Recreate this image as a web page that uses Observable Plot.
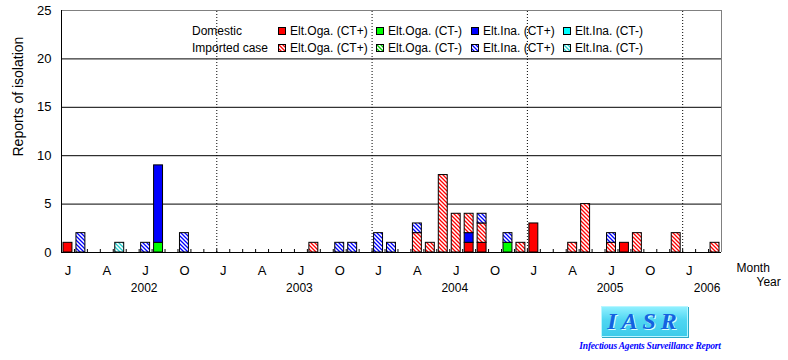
<!DOCTYPE html>
<html>
<head>
<meta charset="utf-8">
<script src="https://cdn.jsdelivr.net/npm/d3@7"></script>
<script src="https://cdn.jsdelivr.net/npm/@observablehq/plot@0.6"></script>
<style>
  body { margin: 0; background: #fff; font-family: "Liberation Sans", Arial, sans-serif; }
  #wrap { position: relative; width: 788px; height: 360px; overflow: hidden; }
  .lg { position: absolute; font-size: 12px; color: #000; white-space: nowrap; line-height: 14px; }
  .sw { position: absolute; width: 8px; height: 8px; }
  #logo { position: absolute; left: 601px; top: 306px; width: 85px; height: 29px;
    background: linear-gradient(180deg, #8ff0ff 0%, #4fd6f2 45%, #3ccbea 100%);
    border: 1px solid #b8f6ff; box-shadow: 1px 1px 0 #2aa9c8;
    font-family: "Liberation Serif", "DejaVu Serif", serif; font-style: italic; font-weight: bold;
    font-size: 24px; color: #1462e0; letter-spacing: 5px; text-align: center; line-height: 29px;
    text-shadow: 1px 1px 0 #d8ffff; }
  #cap { position: absolute; left: 573px; top: 341px; width: 154px; text-align: center;
    font-family: "Liberation Serif", "DejaVu Serif", serif; font-style: italic; font-weight: bold;
    font-size: 9.5px; color: #0000ff; white-space: nowrap; letter-spacing: -0.2px; }
</style>
</head>
<body>
<div id="wrap"></div>
<script>
// ---- data (monthly reports, Jan 2002 .. Mar 2006) ----
const startYear = 2002;
const monthCount = 51;
const monthLetters = ["J", "", "", "A", "", "", "J", "", "", "O", "", ""];
const years = [2002, 2003, 2004, 2005, 2006];
const yTicks = [0, 5, 10, 15, 20, 25];

const seriesNames = [
  "Domestic Elt.Oga. (CT+)", "Domestic Elt.Oga. (CT-)", "Domestic Elt.Ina. (CT+)", "Domestic Elt.Ina. (CT-)",
  "Imported Elt.Oga. (CT+)", "Imported Elt.Oga. (CT-)", "Imported Elt.Ina. (CT+)", "Imported Elt.Ina. (CT-)"
];
const legendLabels = ["Elt.Oga. (CT+)", "Elt.Oga. (CT-)", "Elt.Ina. (CT+)", "Elt.Ina. (CT-)"];
const groupLabels = ["Domestic", "Imported case"];

//                      2002                        2003                        2004                        2005                        2006
const domOgaPos = [1,0,0,0,0,0,0,0,0,0,0,0, 0,0,0,0,0,0,0,0,0,0,0,0, 0,0,0,0,0,0,0,1,1,0,0,0, 3,0,0,0,0,0,0,1,0,0,0,0, 0,0,0];
const domOgaNeg = [0,0,0,0,0,0,0,1,0,0,0,0, 0,0,0,0,0,0,0,0,0,0,0,0, 0,0,0,0,0,0,0,0,0,0,1,0, 0,0,0,0,0,0,0,0,0,0,0,0, 0,0,0];
const domInaPos = [0,0,0,0,0,0,0,8,0,0,0,0, 0,0,0,0,0,0,0,0,0,0,0,0, 0,0,0,0,0,0,0,1,0,0,0,0, 0,0,0,0,0,0,0,0,0,0,0,0, 0,0,0];
const domInaNeg = [0,0,0,0,0,0,0,0,0,0,0,0, 0,0,0,0,0,0,0,0,0,0,0,0, 0,0,0,0,0,0,0,0,0,0,0,0, 0,0,0,0,0,0,0,0,0,0,0,0, 0,0,0];
const impOgaPos = [0,0,0,0,0,0,0,0,0,0,0,0, 0,0,0,0,0,0,0,1,0,0,0,0, 0,0,0,2,1,8,4,2,2,0,0,1, 0,0,0,1,5,0,1,0,2,0,0,2, 0,0,1];
const impOgaNeg = [0,0,0,0,0,0,0,0,0,0,0,0, 0,0,0,0,0,0,0,0,0,0,0,0, 0,0,0,0,0,0,0,0,0,0,0,0, 0,0,0,0,0,0,0,0,0,0,0,0, 0,0,0];
const impInaPos = [0,2,0,0,0,0,1,0,0,2,0,0, 0,0,0,0,0,0,0,0,0,1,1,0, 2,1,0,1,0,0,0,0,1,0,1,0, 0,0,0,0,0,0,1,0,0,0,0,0, 0,0,0];
const impInaNeg = [0,0,0,0,1,0,0,0,0,0,0,0, 0,0,0,0,0,0,0,0,0,0,0,0, 0,0,0,0,0,0,0,0,0,0,0,0, 0,0,0,0,0,0,0,0,0,0,0,0, 0,0,0];

const seriesValues = [domOgaPos, domOgaNeg, domInaPos, domInaNeg, impOgaPos, impOgaNeg, impInaPos, impInaNeg];

// ---- styles ----
const baseColors = ["#ff0000", "#00ff00", "#0000ff", "#00ffff"];
const hatchColors = ["#ff0000", "#00cc00", "#0000ff", "#22cccc"];
const fills = [...baseColors, ...hatchColors.map((c, i) => `url(#hatch${i})`)];

// pattern defs (shared by chart and legend)
const NS = "http://www.w3.org/2000/svg";
const defsSvg = document.createElementNS(NS, "svg");
defsSvg.setAttribute("width", 0); defsSvg.setAttribute("height", 0);
defsSvg.style.position = "absolute";
const defs = document.createElementNS(NS, "defs");
hatchColors.forEach((c, i) => {
  const p = document.createElementNS(NS, "pattern");
  p.setAttribute("id", `hatch${i}`);
  p.setAttribute("patternUnits", "userSpaceOnUse");
  p.setAttribute("width", 4); p.setAttribute("height", 4);
  const r = document.createElementNS(NS, "rect");
  r.setAttribute("width", 4); r.setAttribute("height", 4); r.setAttribute("fill", "#fff");
  p.appendChild(r);
  const path = document.createElementNS(NS, "path");
  path.setAttribute("d", "M-1,-1L5,5M-1,3L1,5M3,-1L5,1");
  path.setAttribute("stroke", c); path.setAttribute("stroke-width", 1.3);
  p.appendChild(path);
  defs.appendChild(p);
});
defsSvg.appendChild(defs);
document.getElementById("wrap").appendChild(defsSvg);

// ---- table ----
const table = [];
seriesNames.forEach((s, k) => {
  seriesValues[k].forEach((v, i) => { if (v > 0) table.push({series: s, i, value: v}); });
});

const monthTicks = d3.range(monthCount).filter(i => monthLetters[i % 12] !== "");
const yearCenters = years.map(y => {
  const ms = d3.range(monthCount).filter(i => startYear + Math.floor(i / 12) === y);
  return {year: y, x: d3.mean(ms) + 0.5};
});

const font = "Liberation Sans, Arial, sans-serif";

const chart = Plot.plot({
  width: 788,
  height: 300,
  marginLeft: 61,
  marginRight: 67,
  marginTop: 10,
  marginBottom: 48,
  style: {fontFamily: font, fontSize: "12px", background: "white", color: "black"},
  x: {domain: [0, monthCount], axis: null},
  y: {domain: [0, 25], axis: null},
  color: {domain: seriesNames, range: fills},
  marks: [
    Plot.ruleY([5, 10, 15, 20], {stroke: "black"}),
    Plot.ruleY([25], {stroke: "#808080"}),
    Plot.ruleX([monthCount], {y1: 0, y2: 25, stroke: "#808080"}),
    Plot.ruleX([12, 24, 36, 48], {y1: 0, y2: 25, stroke: "black", strokeDasharray: "1,2"}),
    Plot.ruleX(d3.range(1, monthCount), {y1: 0, y2: 0, insetTop: -3, stroke: "black"}),
    Plot.rectY(table, {
      x1: "i", x2: d => d.i + 1, y: "value", z: "series", fill: "series",
      insetLeft: 2, insetRight: 2, stroke: "black", strokeWidth: 1,
      order: seriesNames
    }),
    Plot.ruleX([0], {y1: 0, y2: 25, stroke: "black"}),
    Plot.ruleY([0], {stroke: "black"}),
    Plot.text(yTicks, {x: 0, y: d => d, text: d => String(d), textAnchor: "end", dx: -10, fontSize: 13}),
    Plot.text(monthTicks, {x: d => d + 0.5, y: 0, text: d => monthLetters[d % 12], dy: 18, fontSize: 13}),
    Plot.text(yearCenters, {x: "x", y: 0, text: d => String(d.year), dy: 36, dx: 5, fontSize: 12}),
    Plot.text(["Reports of isolation"], {frameAnchor: "left", rotate: -90, dx: -42.5, dy: 25, fontSize: 14}),
    Plot.text(["Month"], {frameAnchor: "bottom-right", textAnchor: "start", dx: 15, dy: 19.5, fontSize: 12}),
    Plot.text(["Year"], {frameAnchor: "bottom-right", textAnchor: "start", dx: 35, dy: 33, fontSize: 12})
  ]
});
const wrap = document.getElementById("wrap");
wrap.appendChild(chart);

// ---- legend overlay ----
const colX = [278, 376, 471, 563];
const rowY = [31, 48];
groupLabels.forEach((g, r) => {
  const t = document.createElement("div");
  t.className = "lg"; t.textContent = g;
  t.style.left = "192px"; t.style.top = (rowY[r] - 7) + "px";
  wrap.appendChild(t);
  legendLabels.forEach((lab, c) => {
    const k = r * 4 + c;
    const sw = document.createElementNS(NS, "svg");
    sw.setAttribute("class", "sw");
    sw.setAttribute("width", 8); sw.setAttribute("height", 8);
    sw.style.left = colX[c] + "px"; sw.style.top = (rowY[r] - 4) + "px";
    const rc = document.createElementNS(NS, "rect");
    rc.setAttribute("x", 0.5); rc.setAttribute("y", 0.5);
    rc.setAttribute("width", 7); rc.setAttribute("height", 7);
    rc.setAttribute("fill", fills[k]); rc.setAttribute("stroke", "black");
    sw.appendChild(rc);
    wrap.appendChild(sw);
    const lt = document.createElement("div");
    lt.className = "lg"; lt.textContent = lab;
    lt.style.left = (colX[c] + 12) + "px"; lt.style.top = (rowY[r] - 7) + "px";
    wrap.appendChild(lt);
  });
});

// ---- logo ----
const logo = document.createElement("div");
logo.id = "logo"; logo.textContent = "IASR";
wrap.appendChild(logo);
const cap = document.createElement("div");
cap.id = "cap"; cap.textContent = "Infectious Agents Surveillance Report";
wrap.appendChild(cap);
</script>
</body>
</html>
